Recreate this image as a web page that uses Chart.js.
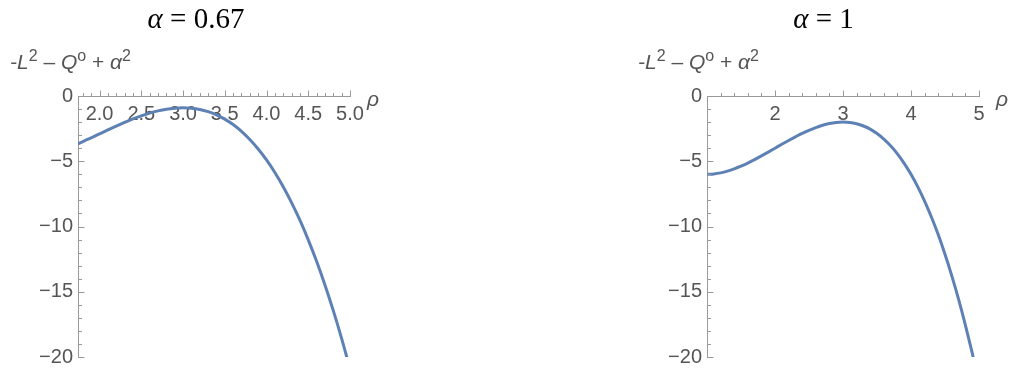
<!DOCTYPE html>
<html>
<head>
<meta charset="utf-8">
<script src="https://cdn.jsdelivr.net/npm/chart.js@4/dist/chart.umd.min.js"></script>
<style>
  html, body { margin: 0; padding: 0; background: #fff; }
  body { width: 1011px; height: 374px; position: relative; overflow: hidden; }
  canvas { position: absolute; top: 0; }
  #leftChart { left: 0; }
  #rightChart { left: 636px; }
</style>
</head>
<body>
<canvas id="leftChart" width="392" height="374"></canvas>
<canvas id="rightChart" width="375" height="374"></canvas>
<script>
// alpha = 0.67 panel (starts at the horizon, rho ~ 1.742)
const rhoLeft = [1.742, 1.8, 1.9, 2.0, 2.1, 2.2, 2.3, 2.4, 2.5, 2.6, 2.7, 2.8, 2.9, 3.0,
  3.1, 3.2, 3.3, 3.4, 3.5, 3.6, 3.7, 3.8, 3.9, 4.0, 4.1, 4.2, 4.3, 4.4, 4.5, 4.6, 4.7, 4.8, 4.9, 5.0];
const valLeft = [-3.66, -3.49, -3.20, -2.90, -2.60, -2.31, -2.03, -1.76, -1.52, -1.31, -1.14, -1.01, -0.93, -0.90,
  -0.93, -1.03, -1.20, -1.44, -1.77, -2.19, -2.71, -3.33, -4.06, -4.90, -5.86, -6.95, -8.17, -9.52, -11.02, -12.67,
  -14.48, -16.45, -18.59, -20.90];

// alpha = 1 panel
const rhoRight = [1.0, 1.1, 1.2, 1.3, 1.4, 1.5, 1.6, 1.7, 1.8, 1.9, 2.0, 2.1, 2.2, 2.3, 2.4, 2.5, 2.6, 2.7, 2.8, 2.9, 3.0,
  3.1, 3.2, 3.3, 3.4, 3.5, 3.6, 3.7, 3.8, 3.9, 4.0, 4.1, 4.2, 4.3, 4.4, 4.5, 4.6, 4.7, 4.8, 4.9, 5.0];
const valRight = [-6.00, -5.97, -5.89, -5.76, -5.58, -5.38, -5.14, -4.87, -4.59, -4.30, -4.00, -3.70, -3.41, -3.13,
  -2.86, -2.63, -2.42, -2.24, -2.11, -2.03, -2.00, -2.03, -2.13, -2.30, -2.54, -2.88, -3.30, -3.81, -4.43, -5.16,
  -6.00, -6.96, -8.05, -9.27, -10.62, -12.13, -13.78, -15.58, -17.55, -19.69, -22.00];

const xTicksLeft = [2.0, 2.5, 3.0, 3.5, 4.0, 4.5, 5.0];
const xTicksRight = [2, 3, 4, 5];
const yTicks = [0, -5, -10, -15, -20];
const alphaLeft = '0.67';
const alphaRight = '1';

const lineColor = '#5e81b5';
const axisColor = '#9a9a9a';
const textColor = '#555555';
const sans = '"Liberation Sans", Arial, sans-serif';
const serif = '"Liberation Serif", "Times New Roman", serif';

function drawRun(ctx, pieces, x, y) {
  pieces.forEach(p => {
    ctx.font = p.font;
    ctx.fillText(p.t, x, y + (p.dy || 0));
    x += ctx.measureText(p.t).width;
  });
}

function runWidth(ctx, pieces) {
  let w = 0;
  pieces.forEach(p => { ctx.font = p.font; w += ctx.measureText(p.t).width; });
  return w;
}

const yLabelPieces = [
  { t: '-', font: 'italic 21px ' + sans },
  { t: 'L', font: 'italic 21px ' + sans },
  { t: '2', font: '16px ' + sans, dy: -8 },
  { t: ' \u2013 ', font: '21px ' + sans },
  { t: 'Q', font: 'italic 21px ' + sans },
  { t: 'o', font: '16px ' + sans, dy: -8 },
  { t: ' + ', font: '21px ' + sans },
  { t: '\u03b1', font: 'italic 21px ' + sans },
  { t: '2', font: '16px ' + sans, dy: -8 }
];

// Mathematica-like decoration: inward ticks, rho label, y label, title
const decor = {
  id: 'decor',
  afterDraw(chart, args, opts) {
    const { ctx, chartArea: a } = chart;
    const xs = chart.scales.x, ys = chart.scales.y;
    const y0 = Math.round(ys.getPixelForValue(0)) + 0.5;
    const xl = Math.round(a.left) + 0.5;
    ctx.save();
    ctx.strokeStyle = axisColor;
    ctx.lineWidth = 1;
    ctx.beginPath();
    const kStart = Math.ceil(xs.min / opts.minor - 1e-6);
    const kEnd = Math.floor(xs.max / opts.minor + 1e-6);
    for (let k = kStart; k <= kEnd; k++) {
      const v = k * opts.minor;
      if (Math.abs(v - xs.min) < 1e-6) continue;
      const r = v / opts.major;
      const len = Math.abs(r - Math.round(r)) < 1e-6 ? 6 : 3.5;
      const px = Math.round(xs.getPixelForValue(v)) + 0.5;
      ctx.moveTo(px, y0);
      ctx.lineTo(px, y0 - len);
    }
    for (let v = 0; v >= ys.min; v--) {
      const len = v % 5 === 0 ? 6 : 3.5;
      const py = Math.round(ys.getPixelForValue(v)) + 0.5;
      ctx.moveTo(xl, py);
      ctx.lineTo(xl + len, py);
    }
    ctx.stroke();

    ctx.fillStyle = textColor;
    ctx.textBaseline = 'alphabetic';
    ctx.textAlign = 'left';
    ctx.font = 'italic 21px ' + sans;
    ctx.fillText('\u03c1', a.right + 17, 106);

    drawRun(ctx, yLabelPieces, opts.yLabelX, 69);

    ctx.fillStyle = '#000';
    const title = [
      { t: '\u03b1', font: 'italic 29px ' + serif },
      { t: ' = ', font: '29px ' + serif },
      { t: opts.alpha, font: '29px ' + serif }
    ];
    const w = runWidth(ctx, title);
    drawRun(ctx, title, chart.width / 2 - w / 2, 28);
    ctx.restore();
  }
};

function makePanel(id, rho, vals, xMin, xMax, xTicks, fmt, yWidth, padRight, decorOpts) {
  return new Chart(document.getElementById(id), {
    type: 'line',
    data: {
      datasets: [{
        data: rho.map((r, i) => ({ x: r, y: vals[i] })),
        borderColor: lineColor,
        borderWidth: 3,
        pointRadius: 0,
        cubicInterpolationMode: 'monotone',
        borderJoinStyle: 'round',
        fill: false
      }]
    },
    options: {
      responsive: false,
      animation: false,
      devicePixelRatio: 1,
      layout: { padding: { top: 96, bottom: 12, left: 0, right: padRight } },
      plugins: {
        legend: { display: false },
        tooltip: { enabled: false },
        decor: decorOpts
      },
      scales: {
        x: {
          type: 'linear',
          position: { y: 0 },
          min: xMin,
          max: xMax,
          afterBuildTicks: s => { s.ticks = xTicks.map(v => ({ value: v })); },
          grid: { drawOnChartArea: false, drawTicks: false },
          border: { display: true, color: axisColor, width: 1 },
          ticks: {
            autoSkip: false,
            maxRotation: 0,
            padding: 6,
            color: textColor,
            font: { family: sans, size: 20 },
            callback: fmt
          }
        },
        y: {
          type: 'linear',
          position: 'left',
          min: -20,
          max: 0,
          afterBuildTicks: s => { s.ticks = yTicks.map(v => ({ value: v })); },
          afterFit: s => { s.width = yWidth; },
          grid: { drawOnChartArea: false, drawTicks: false },
          border: { display: true, color: axisColor, width: 1 },
          ticks: {
            padding: 5,
            color: textColor,
            font: { family: sans, size: 20 },
            callback: v => (v < 0 ? '\u2212' + Math.abs(v) : String(v))
          }
        }
      }
    },
    plugins: [decor]
  });
}

makePanel('leftChart', rhoLeft, valLeft, 1.742, 5.0, xTicksLeft, v => v.toFixed(1), 78, 42,
  { minor: 0.1, major: 0.5, yLabelX: 10, alpha: alphaLeft });
makePanel('rightChart', rhoRight, valRight, 1.0, 5.0, xTicksRight, v => String(v), 71, 32,
  { minor: 0.2, major: 1, yLabelX: 2, alpha: alphaRight });
</script>
</body>
</html>
